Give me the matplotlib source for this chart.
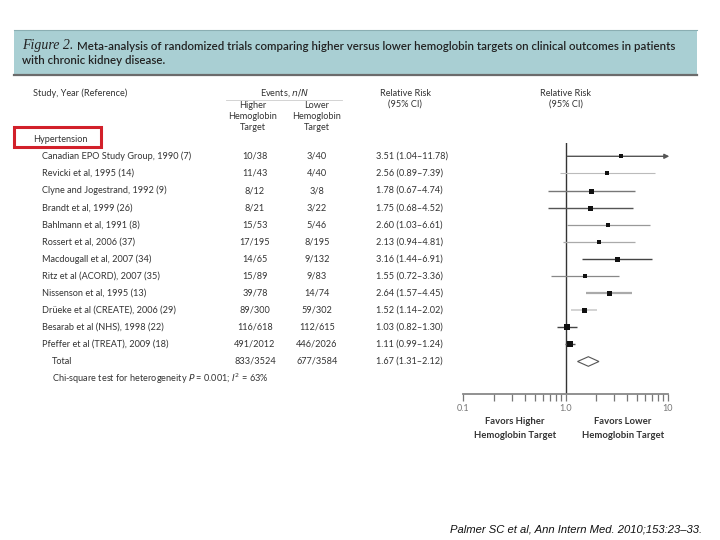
import matplotlib
matplotlib.use('Agg')
import matplotlib.pyplot as plt
import matplotlib.transforms as mtransforms
from matplotlib.patches import Rectangle, Polygon
from matplotlib.lines import Line2D
import numpy as np

# Data
studies = ['Canadian EPO Study Group, 1990 (7)', 'Revicki et al, 1995 (14)',
           'Clyne and Jogestrand, 1992 (9)', 'Brandt et al, 1999 (26)',
           'Bahlmann et al, 1991 (8)', 'Rossert et al, 2006 (37)',
           'Macdougall et al, 2007 (34)', 'Ritz et al (ACORD), 2007 (35)',
           'Nissenson et al, 1995 (13)', 'Drüeke et al (CREATE), 2006 (29)',
           'Besarab et al (NHS), 1998 (22)', 'Pfeffer et al (TREAT), 2009 (18)']
higher = ['10/38', '11/43', '8/12', '8/21', '15/53', '17/195', '14/65', '15/89',
          '39/78', '89/300', '116/618', '491/2012']
lower = ['3/40', '4/40', '3/8', '3/22', '5/46', '8/195', '9/132', '9/83',
         '14/74', '59/302', '112/615', '446/2026']
rr = [3.51, 2.56, 1.78, 1.75, 2.60, 2.13, 3.16, 1.55, 2.64, 1.52, 1.03, 1.11]
ci_lo = [1.04, 0.89, 0.67, 0.68, 1.03, 0.94, 1.44, 0.72, 1.57, 1.14, 0.82, 0.99]
ci_hi = [11.78, 7.39, 4.74, 4.52, 6.61, 4.81, 6.91, 3.36, 4.45, 2.02, 1.30, 1.24]
total_higher = '833/3524'
total_lower = '677/3584'
total_rr, total_lo, total_hi = 1.67, 1.31, 2.12

# styling per row (square size in px, line shade)
box_px = [4.5, 4, 5, 5, 4, 4, 5, 4, 5, 5, 6.5, 6]
line_col = ['#555555', '#bbbbbb', '#777777', '#555555', '#999999', '#aaaaaa',
            '#444444', '#888888', '#aaaaaa', '#cccccc', '#444444', '#555555']
line_w = [1.0, 0.8, 1.0, 1.0, 0.9, 0.9, 1.0, 0.9, 1.6, 1.2, 1.0, 1.0]

W, H = 720, 540
fig = plt.figure(figsize=(7.2, 5.4), dpi=100)
fig.patch.set_facecolor('white')


def fx(x):
    return x / W


def fy(y):
    return 1 - y / H


FONT = 'Lato'
TXT = '#333333'

# header band
fig.patches.append(Rectangle((fx(14), fy(75)), fx(697) - fx(14), fy(30) - fy(75),
                             transform=fig.transFigure, facecolor='#a9cfd3',
                             edgecolor='none', zorder=0))
fig.lines.append(Line2D([fx(14), fx(697)], [fy(30), fy(30)], transform=fig.transFigure,
                        color='#8aaeb2', lw=0.8))
fig.lines.append(Line2D([fx(14), fx(697)], [fy(75), fy(75)], transform=fig.transFigure,
                        color='#6b6b6b', lw=1.6))

t1 = fig.text(fx(22), fy(46), 'Figure 2.', family='Liberation Serif', style='italic',
              fontsize=10, color='#222222', va='center', ha='left')
fig.canvas.draw()
r = fig.canvas.get_renderer()
bb = t1.get_window_extent(r)
fig.text(bb.x1 / W + fx(4), fy(46),
         'Meta-analysis of randomized trials comparing higher versus lower hemoglobin '
         'targets on clinical outcomes in patients',
         family=FONT, weight='semibold', fontsize=8.3, color='#222222', va='center', ha='left')
fig.text(fx(22), fy(60), 'with chronic kidney disease.', family=FONT, weight='semibold',
         fontsize=8.3, color='#222222', va='center', ha='left')

# forest axes
ax = fig.add_axes([fx(463), fy(394), fx(668) - fx(463), fy(143) - fy(394)])
ax.set_xscale('log')
ax.set_xlim(0.1, 10)
n = len(studies)
step = 17.1
top_row = (143 - 156.3) / step
bot_row = (394 - 156.3) / step
ax.set_ylim(bot_row, top_row)
for s in ['top', 'right', 'left']:
    ax.spines[s].set_visible(False)
ax.spines['bottom'].set_color('#888888')
ax.spines['bottom'].set_linewidth(1.3)
ax.set_yticks([])
ax.set_xticks([0.1, 1, 10])
ax.set_xticklabels(['0.1', '1.0', '10'])
ax.xaxis.set_minor_locator(matplotlib.ticker.LogLocator(base=10, subs=np.arange(2, 10)))
ax.xaxis.set_minor_formatter(matplotlib.ticker.NullFormatter())
ax.tick_params(axis='x', which='both', direction='out', length=5, width=0.9,
               color='#777777', labelsize=6.5, labelcolor='#777777', pad=2)
for lab in ax.get_xticklabels():
    lab.set_family(FONT)
ax.axvline(1, color='#333333', lw=1.0, zorder=1)
ax.patch.set_alpha(0)

rows = np.arange(n)
for i in rows:
    if ci_hi[i] > 10:
        ax.annotate('', xy=(10.3, i), xytext=(ci_lo[i], i), annotation_clip=False,
                    arrowprops=dict(arrowstyle='-|>', color=line_col[i], lw=line_w[i],
                                    mutation_scale=7, shrinkA=0, shrinkB=0))
    else:
        ax.plot([ci_lo[i], ci_hi[i]], [i, i], color=line_col[i], lw=line_w[i],
                solid_capstyle='butt', zorder=2)
    side_pt = box_px[i] * 72 / 100
    ax.scatter([rr[i]], [i], marker='s', s=side_pt ** 2, color='#111111', zorder=3,
               linewidths=0)

dh = 0.28
ax.add_patch(Polygon([(total_lo, n), (total_rr, n - dh), (total_hi, n), (total_rr, n + dh)],
                     closed=True, facecolor='white', edgecolor='#555555', lw=0.8, zorder=3))

# table text
row_tr = mtransforms.blended_transform_factory(fig.transFigure, ax.transData)
kw = dict(family=FONT, fontsize=6.6, color=TXT, va='center')
for i in rows:
    fig.text(fx(42), i, studies[i], transform=row_tr, ha='left', **kw)
    fig.text(fx(255), i, higher[i], transform=row_tr, ha='center', **kw)
    fig.text(fx(317), i, lower[i], transform=row_tr, ha='center', **kw)
    fig.text(fx(376), i, f'{rr[i]:.2f} ({ci_lo[i]:.2f}\u2013{ci_hi[i]:.2f})',
             transform=row_tr, ha='left', **kw)
fig.text(fx(52), n, 'Total', transform=row_tr, ha='left', **kw)
fig.text(fx(255), n, total_higher, transform=row_tr, ha='center', **kw)
fig.text(fx(317), n, total_lower, transform=row_tr, ha='center', **kw)
fig.text(fx(376), n, f'{total_rr:.2f} ({total_lo:.2f}\u2013{total_hi:.2f})',
         transform=row_tr, ha='left', **kw)
fig.text(fx(52), n + 1, r'Chi-square test for heterogeneity $\it{P}$ = 0.001; $\it{I}^2$ = 63%',
         transform=row_tr, ha='left', **kw)

fig.text(fx(33), fy(139), 'Hypertension', ha='left', **kw)

# column headers
hk = dict(family=FONT, fontsize=6.6, color=TXT, va='center', ha='center')
fig.text(fx(33), fy(93), 'Study, Year (Reference)', family=FONT, fontsize=6.6, color=TXT,
         va='center', ha='left')
fig.text(fx(284), fy(93), r'Events, $\it{n/N}$', **hk)
fig.lines.append(Line2D([fx(226), fx(342)], [fy(99.5), fy(99.5)], transform=fig.transFigure,
                        color='#cccccc', lw=0.6))
for j, t in enumerate(['Higher', 'Hemoglobin', 'Target']):
    fig.text(fx(253), fy(105 + 11.5 * j), t, **hk)
for j, t in enumerate(['Lower', 'Hemoglobin', 'Target']):
    fig.text(fx(317), fy(105 + 11.5 * j), t, **hk)
fig.text(fx(405), fy(93), 'Relative Risk', **hk)
fig.text(fx(405), fy(104), '(95% CI)', **hk)
fig.text(fx(566), fy(93), 'Relative Risk', **hk)
fig.text(fx(566), fy(104), '(95% CI)', **hk)

# favors labels
fk = dict(family=FONT, fontsize=6.8, color=TXT, va='center', ha='center', weight='bold')
fig.text(fx(515), fy(422), 'Favors Higher', **fk)
fig.text(fx(515), fy(435), 'Hemoglobin Target', **fk)
fig.text(fx(623), fy(422), 'Favors Lower', **fk)
fig.text(fx(623), fy(435), 'Hemoglobin Target', **fk)

# red highlight box
fig.patches.append(Rectangle((fx(14), fy(147)), fx(101) - fx(14), fy(127) - fy(147),
                             transform=fig.transFigure, facecolor='none',
                             edgecolor='#d2202a', lw=2.2, zorder=5))

# citation
fig.text(fx(450), fy(530), 'Palmer SC et al, Ann Intern Med. 2010;153:23\u201333.',
         family='Liberation Sans', style='italic', fontsize=8.1, color='#111111',
         va='center', ha='left')

fig.savefig('out.png', dpi=100)
